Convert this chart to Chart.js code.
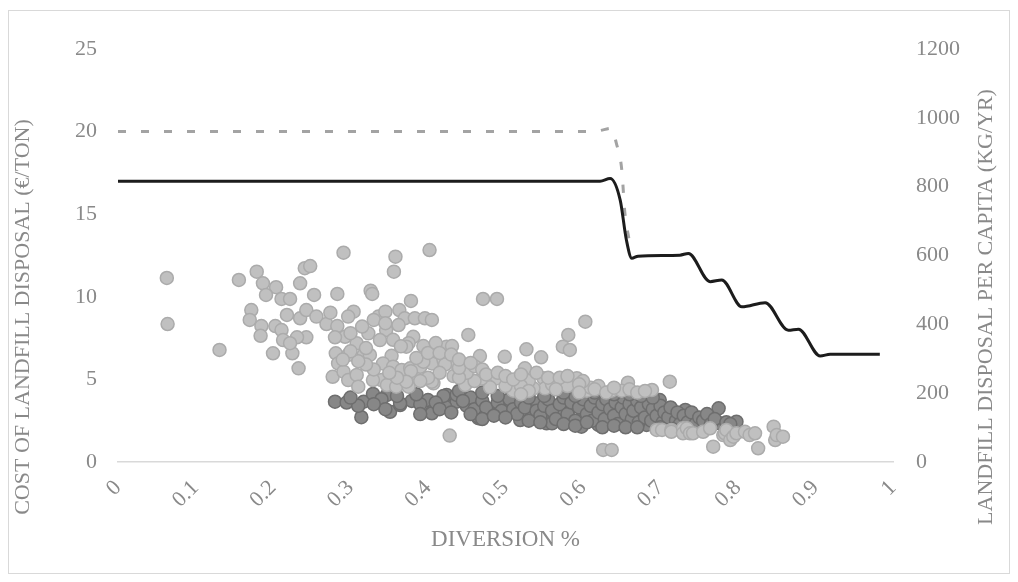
<!DOCTYPE html>
<html>
<head>
<meta charset="utf-8">
<script src="https://cdn.jsdelivr.net/npm/chart.js@4.4.1/dist/chart.umd.min.js"></script>
<style>
  html, body { margin: 0; padding: 0; background: #ffffff; }
  canvas { display: block; }
</style>
</head>
<body>
<canvas id="chart" width="1018" height="582"></canvas>
<script>
// Axis ticks
const xTicks = [0, 0.1, 0.2, 0.3, 0.4, 0.5, 0.6, 0.7, 0.8, 0.9, 1];
const costTicks = [0, 5, 10, 15, 20, 25];
const perCapitaTicks = [0, 200, 400, 600, 800, 1000, 1200];

// Municipalities, cost of landfill disposal (€/ton) vs diversion
const lightX = [0.063,0.064,0.131,0.156,0.179,0.187,0.204,0.191,0.172,0.170,0.185,0.184,0.200,0.225,0.233,0.211,0.222,0.235,0.241,0.248,0.253,0.218,0.203,0.211,0.213,0.235,0.243,0.243,0.231,0.222,0.256,0.269,0.274,0.283,0.291,0.304,0.297,0.283,0.293,0.280,0.281,0.297,0.284,0.277,0.291,0.297,0.308,0.310,0.308,0.317,0.323,0.326,0.328,0.336,0.345,0.346,0.338,0.325,0.358,0.356,0.363,0.370,0.362,0.378,0.383,0.396,0.405,0.402,0.381,0.375,0.394,0.353,0.342,0.355,0.366,0.377,0.387,0.340,0.329,0.347,0.359,0.375,0.405,0.407,0.420,0.424,0.428,0.452,0.499,0.467,0.431,0.471,0.489,0.525,0.712,0.658,0.689,0.637,0.650,0.605,0.592,0.570,0.549,0.551,0.536,0.506,0.510,0.489,0.480,0.469,0.448,0.433,0.431,0.422,0.405,0.390,0.378,0.372,0.372,0.394,0.603,0.581,0.574,0.583,0.527,0.546,0.626,0.637,0.695,0.702,0.714,0.714,0.729,0.729,0.734,0.738,0.742,0.755,0.764,0.768,0.781,0.783,0.785,0.790,0.794,0.798,0.809,0.815,0.822,0.826,0.846,0.848,0.850,0.858,0.61,0.62,0.60,0.58,0.56,0.53,0.52,0.50,0.46,0.45,0.44,0.46,0.47,0.44,0.415,0.40,0.39,0.36,0.35,0.33,0.32,0.32,0.31,0.30,0.29,0.30,0.315,0.33,0.345,0.355,0.365,0.385,0.40,0.41,0.415,0.43,0.44,0.455,0.475,0.49,0.50,0.51,0.52,0.54,0.555,0.57,0.58,0.595,0.615,0.63,0.64,0.66,0.67,0.68,0.595,0.565,0.53,0.52];
const lightY = [11.14,8.35,6.78,11.02,11.52,10.82,10.58,10.11,9.20,8.60,8.23,7.64,6.58,6.58,5.67,9.87,9.87,10.82,11.73,11.86,10.11,8.90,8.23,7.99,7.38,8.70,9.20,7.55,7.55,7.19,8.80,8.35,9.04,10.17,12.67,9.10,8.80,8.23,7.58,7.55,6.58,6.48,5.97,5.16,5.47,4.96,5.27,4.56,7.19,6.48,7.79,10.37,10.17,8.80,9.10,7.99,7.38,6.48,12.43,11.52,9.20,8.70,8.29,9.75,8.70,8.70,8.60,12.83,7.58,7.19,7.02,6.43,5.97,5.77,5.57,5.67,5.27,4.96,4.96,4.66,4.56,4.56,5.97,4.76,6.17,6.98,1.60,7.69,6.37,6.41,7.02,9.87,9.87,5.67,4.86,4.80,4.36,4.32,4.32,4.32,5.07,4.86,5.07,4.46,4.46,4.86,4.32,5.07,4.52,5.05,4.66,5.20,6.07,5.90,4.86,5.77,5.50,4.86,6.98,6.07,8.49,7.69,6.98,6.78,6.82,6.34,0.73,0.73,1.94,1.94,1.94,1.83,2.04,1.74,2.04,1.74,1.74,1.83,2.04,0.93,1.63,1.74,1.94,1.33,1.53,1.74,1.83,1.63,1.74,0.83,2.14,1.33,1.63,1.53,4.5,4.6,4.9,4.6,4.7,4.9,4.6,4.6,4.9,5.4,5.1,5.8,5.6,5.7,5.4,5.1,4.9,5.1,5.4,5.6,5.9,6.9,6.1,6.7,6.2,7.8,8.2,8.6,8.4,7.4,7.0,6.3,6.6,7.2,6.6,6.5,6.2,6.0,5.3,5.4,5.2,5.0,5.3,5.4,5.1,5.1,5.2,4.7,4.4,4.2,4.5,4.4,4.2,4.3,4.2,4.4,4.3,4.1];

const darkX = [0.280,0.295,0.317,0.314,0.329,0.347,0.351,0.364,0.379,0.400,0.405,0.424,0.437,0.465,0.482,0.502,0.519,0.536,0.553,0.364,0.405,0.422,0.437,0.465,0.480,0.502,0.534,0.542,0.560,0.566,0.583,0.598,0.600,0.618,0.624,0.620,0.635,0.648,0.656,0.661,0.674,0.680,0.691,0.682,0.708,0.699,0.717,0.732,0.738,0.751,0.775,0.798,0.777,0.45,0.455,0.46,0.47,0.475,0.49,0.495,0.505,0.51,0.515,0.52,0.525,0.53,0.54,0.545,0.55,0.555,0.56,0.565,0.57,0.575,0.58,0.585,0.59,0.595,0.60,0.605,0.61,0.612,0.615,0.62,0.625,0.628,0.63,0.635,0.64,0.642,0.645,0.65,0.652,0.655,0.66,0.663,0.665,0.67,0.672,0.675,0.68,0.685,0.688,0.69,0.695,0.70,0.703,0.705,0.71,0.713,0.72,0.722,0.725,0.73,0.735,0.74,0.745,0.75,0.755,0.76,0.765,0.77,0.785,0.79,0.66,0.675,0.69,0.64,0.615,0.59,0.575,0.55,0.52,0.49,0.47,0.44,0.42,0.41,0.39,0.385,0.36,0.34,0.345,0.33,0.31,0.30,0.39,0.415,0.43,0.445,0.455,0.47,0.485,0.50,0.53,0.545,0.575,0.59,0.605,0.625,0.64,0.655,0.67,0.70,0.715];
const darkY = [3.65,3.60,3.65,2.71,4.12,4.06,3.04,3.45,3.70,3.75,3.04,4.06,3.65,2.65,3.04,3.45,2.54,2.65,2.34,3.55,2.95,3.35,4.06,2.74,2.95,3.55,2.74,3.55,2.34,3.04,3.25,2.14,2.74,3.15,4.16,2.24,2.95,2.54,3.55,2.34,2.85,3.75,2.95,2.24,3.15,3.75,2.65,3.15,2.54,2.65,3.25,2.44,2.34,3.4,3.9,3.2,3.7,3.3,3.6,3.1,3.8,3.2,2.9,3.6,3.3,3.9,3.1,2.8,3.4,3.8,3.1,2.6,3.5,3.9,2.9,3.6,2.5,3.3,3.8,2.9,3.4,2.5,3.9,3.0,3.5,2.6,3.8,3.2,2.8,3.6,2.3,3.3,3.9,2.9,3.5,2.6,3.1,3.7,2.4,3.3,2.7,3.5,2.5,3.2,2.8,3.4,2.4,3.0,2.7,3.3,2.5,3.0,2.3,2.8,2.4,3.0,2.3,2.7,2.5,2.9,2.3,2.6,2.4,2.3,4.1,4.0,3.9,4.1,4.2,4.0,4.2,4.0,4.1,4.0,4.2,4.3,4.0,3.6,3.5,4.1,4.0,3.8,3.2,3.5,3.4,3.9,2.9,3.2,3.0,3.7,2.9,2.6,2.8,2.7,2.5,2.4,2.3,2.2,2.4,2.1,2.2,2.1,2.1,2.1,2.0];

// Landfill disposal per capita (kg/yr), solid line
const perCapitaX = [0, 0.3, 0.6, 0.622, 0.635, 0.648, 0.656, 0.663, 0.671, 0.725, 0.736, 0.764, 0.779, 0.805, 0.835, 0.865, 0.878, 0.906, 0.919, 0.983];
const perCapitaY = [816, 816, 816, 816, 824, 761, 645, 592, 598, 601, 606, 524, 529, 451, 463, 383, 386, 308, 313, 313];

// Landfill cost (€/ton), dashed line
const costLineX = [0, 0.3, 0.6, 0.62, 0.637, 0.643, 0.650, 0.654, 0.660];
const costLineY = [20, 20, 20, 20.05, 20.2, 19.3, 17.7, 15.1, 13.3];

const pairs = (xs, ys) => xs.map((x, i) => ({ x: x, y: ys[i] }));

const TEXT = '#898989';
const FONT = '"Liberation Serif", "Times New Roman", serif';

const decorations = {
  id: 'decorations',
  beforeDraw(chart) {
    const ctx = chart.ctx;
    ctx.save();
    ctx.fillStyle = '#ffffff';
    ctx.fillRect(0, 0, chart.width, chart.height);
    ctx.strokeStyle = '#d9d9d9';
    ctx.lineWidth = 1;
    ctx.strokeRect(8.5, 10.5, 1001, 563);
    ctx.restore();
  },
  afterDraw(chart) {
    const ctx = chart.ctx;
    const a = chart.chartArea;
    ctx.save();
    ctx.fillStyle = TEXT;
    ctx.textAlign = 'center';
    ctx.textBaseline = 'middle';
    ctx.font = '23px ' + FONT;
    ctx.fillText('DIVERSION %', (a.left + a.right) / 2, 540);

    ctx.font = '22px ' + FONT;
    ctx.translate(23, 317);
    ctx.rotate(-Math.PI / 2);
    ctx.fillText('COST OF LANDFILL DISPOSAL (€/TON)', 0, 0);
    ctx.restore();

    ctx.save();
    ctx.fillStyle = TEXT;
    ctx.font = '22px ' + FONT;
    ctx.textAlign = 'center';
    ctx.textBaseline = 'middle';
    ctx.translate(986, 307);
    ctx.rotate(-Math.PI / 2);
    ctx.fillText('LANDFILL DISPOSAL PER CAPITA (KG/YR)', 0, 0);
    ctx.restore();
  }
};

new Chart(document.getElementById('chart'), {
  type: 'scatter',
  data: {
    datasets: [
      {
        type: 'line',
        label: 'Landfill disposal per capita',
        data: pairs(perCapitaX, perCapitaY),
        yAxisID: 'yRight',
        borderColor: '#1c1c1c',
        borderWidth: 3,
        pointRadius: 0,
        cubicInterpolationMode: 'monotone',
        fill: false,
        order: 0
      },
      {
        type: 'line',
        label: 'Landfill cost',
        data: pairs(costLineX, costLineY),
        yAxisID: 'yLeft',
        borderColor: '#a3a3a3',
        borderWidth: 3,
        borderDash: [8, 15],
        pointRadius: 0,
        cubicInterpolationMode: 'monotone',
        fill: false,
        order: 0
      },
      {
        label: 'Municipalities A',
        data: pairs(lightX, lightY),
        yAxisID: 'yLeft',
        backgroundColor: '#c0c0c0',
        borderColor: '#ababab',
        borderWidth: 1.5,
        pointRadius: 6.5,
        order: 1
      },
      {
        label: 'Municipalities B',
        data: pairs(darkX, darkY),
        yAxisID: 'yLeft',
        backgroundColor: '#878787',
        borderColor: '#6e6e6e',
        borderWidth: 1.5,
        pointRadius: 6.5,
        order: 2
      }
    ]
  },
  options: {
    responsive: false,
    animation: false,
    events: [],
    layout: { padding: { top: 49, left: 0, right: 0, bottom: 0 } },
    plugins: { legend: { display: false }, tooltip: { enabled: false } },
    scales: {
      x: {
        type: 'linear',
        min: 0,
        max: 1,
        afterBuildTicks(scale) { scale.ticks = xTicks.map(v => ({ value: v })); },
        afterFit(scale) { scale.height = 120; },
        grid: { display: false, drawTicks: false },
        border: { display: true, color: '#d9d9d9', width: 1.5 },
        ticks: {
          autoSkip: false,
          minRotation: 45,
          maxRotation: 45,
          padding: 13,
          color: TEXT,
          font: { family: FONT, size: 22 },
          callback: (v) => String(v)
        }
      },
      yLeft: {
        type: 'linear',
        position: 'left',
        min: 0,
        max: 25,
        afterBuildTicks(scale) { scale.ticks = costTicks.map(v => ({ value: v })); },
        afterFit(scale) { scale.width = 118; },
        grid: { display: false, drawTicks: false },
        border: { display: false },
        ticks: { padding: 21, color: TEXT, font: { family: FONT, size: 22 }, callback: (v) => String(v) }
      },
      yRight: {
        type: 'linear',
        position: 'right',
        min: 0,
        max: 1200,
        afterBuildTicks(scale) { scale.ticks = perCapitaTicks.map(v => ({ value: v })); },
        afterFit(scale) { scale.width = 125; },
        grid: { display: false, drawTicks: false },
        border: { display: false },
        ticks: { padding: 23, color: TEXT, font: { family: FONT, size: 22 }, callback: (v) => String(v) }
      }
    }
  },
  plugins: [decorations]
});
</script>
</body>
</html>
